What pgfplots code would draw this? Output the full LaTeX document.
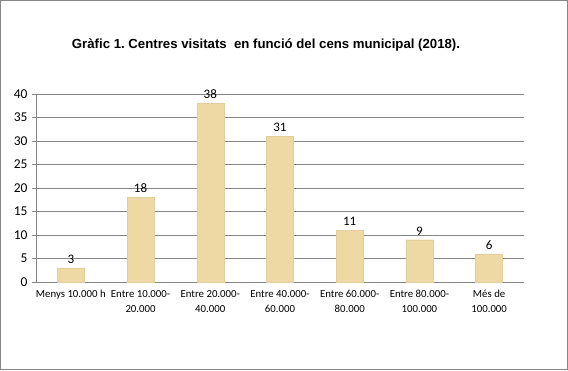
\documentclass[border=0pt]{standalone}
\usepackage{fontspec}
\setmainfont{Liberation Sans}
\newfontfamily\calibri{Carlito}
\usepackage{pgfplots}
\pgfplotsset{compat=1.18}
\frenchspacing
\definecolor{papyrus}{RGB}{238,216,164}
\definecolor{gridgray}{RGB}{134,134,134}
\begin{document}
\begin{tikzpicture}[x=1pt,y=1pt]
\useasboundingbox (0,0) rectangle (568,370);
\fill[white] (0,0) rectangle (568,370);
\draw[gridgray,line width=0.9pt] (0.5,0.5) rectangle (567.5,369.5);
\node[font=\bfseries\fontsize{13.2}{15}\selectfont] at (266,325) {Gràfic 1. Centres visitats\ \ en funció del cens municipal (2018).};
\begin{axis}[
  at={(36pt,88pt)}, anchor=south west,
  scale only axis, width=488pt, height=188pt,
  xmin=0, xmax=7, ymin=0, ymax=40,
  ytick={0,5,...,40},
  axis x line*=bottom, axis y line*=left,
  axis line style={gridgray, line width=0.6pt},
  ymajorgrids, grid style={gridgray, line width=0.6pt},
  tick align=outside,
  major tick length=4pt,
  tick style={gridgray, line width=0.6pt},
  xtick={0.5,1.5,...,6.5},
  xtick style={draw=none},
  minor xtick={0,1,...,7},
  minor tick length=4pt,
  xticklabels={Menys 10.000 h, {Entre 10.000-\\20.000}, {Entre 20.000-\\40.000}, {Entre 40.000-\\60.000}, {Entre 60.000-\\80.000}, {Entre 80.000-\\100.000}, {Més de\\100.000}},
  xticklabel style={align=center, font=\calibri\fontsize{10.8}{15}\selectfont, text=black, yshift=-0.5pt},
  yticklabel style={font=\calibri\fontsize{13.5}{14}\selectfont, text=black, xshift=-1pt},
  /pgf/number format/assume math mode=true,
  clip=false,
  nodes near coords,
  every node near coord/.append style={font=\calibri\fontsize{13}{14}\selectfont, text=black, yshift=1pt},
]
\addplot[ybar, bar width=27pt, fill=papyrus, draw=papyrus!95!black, line width=0.3pt] coordinates {
(0.5,3) (1.5,18) (2.5,38) (3.5,31) (4.5,11) (5.5,9) (6.5,6)};
\end{axis}
\end{tikzpicture}
\end{document}
